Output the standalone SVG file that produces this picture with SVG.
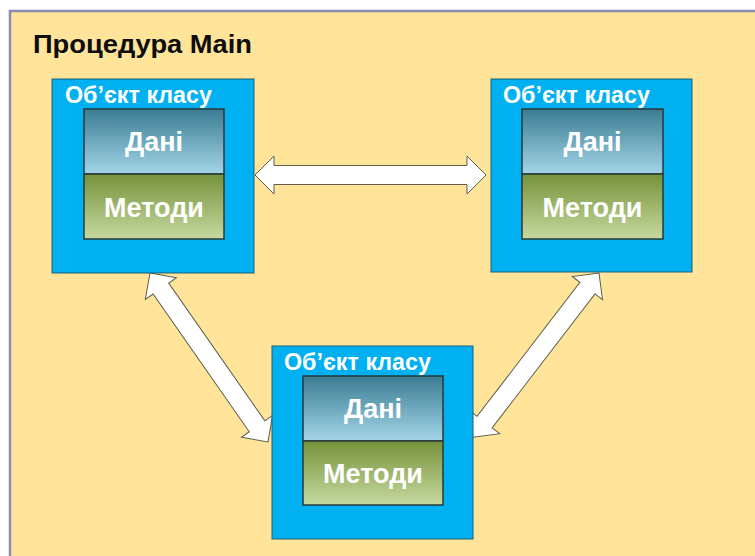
<svg xmlns="http://www.w3.org/2000/svg" width="755" height="556" viewBox="0 0 755 556">
  <defs>
    <linearGradient id="gData" x1="0" y1="0" x2="0" y2="1">
      <stop offset="0" stop-color="#3B7C93"/>
      <stop offset="1" stop-color="#A3D5E7"/>
    </linearGradient>
    <linearGradient id="gMeth" x1="0" y1="0" x2="0" y2="1">
      <stop offset="0" stop-color="#76923A"/>
      <stop offset="1" stop-color="#C6D9A0"/>
    </linearGradient>
    <style>
      .frame { fill: #FFE49A; stroke: #8C8AAE; stroke-width: 2.5; }
      .obj { fill: #00B0F0; stroke: #1F5F78; stroke-width: 1; }
      .data { fill: url(#gData); stroke: #26383A; stroke-width: 1.5; }
      .meth { fill: url(#gMeth); stroke: #26383A; stroke-width: 1.5; }
      .title { font-family: "Liberation Sans", Arial, sans-serif; font-weight: bold; font-size: 26px; fill: #0D0D0D; }
      .objlbl { font-family: "Liberation Sans", Arial, sans-serif; font-weight: bold; font-size: 23px; fill: #FFFFFF; }
      .inlbl { font-family: "Liberation Sans", Arial, sans-serif; font-weight: bold; font-size: 27px; fill: #FFFFFF; text-anchor: middle; }
      .arrow { fill: #FFFFFF; stroke: #5E5C4C; stroke-width: 1; stroke-linejoin: miter; }
    </style>
  </defs>

  <rect x="0" y="0" width="755" height="556" fill="#FFFFFF"/>
  <rect class="frame" x="10" y="11" width="770" height="570"/>

  <g id="title">
    <text class="title" x="33" y="53" textLength="219" lengthAdjust="spacingAndGlyphs">Процедура Main</text>
  </g>

  <g id="connectors">
    <polygon class="arrow" transform="translate(255,175)" points="0,0 19,-19 19,-9.5 212,-9.5 212,-19 231,0 212,19 212,9.5 19,9.5 19,19"/>
    <polygon class="arrow" transform="translate(150,273) rotate(55.07)" points="0,0 19,-19 19,-9.5 187,-9.5 187,-19 206,0 187,19 187,9.5 19,9.5 19,19"/>
    <polygon class="arrow" transform="translate(599,273) rotate(127.5)" points="0,0 19,-19 19,-9.5 188,-9.5 188,-19 207,0 188,19 188,9.5 19,9.5 19,19"/>
  </g>

  <g id="obj1">
    <rect class="obj" x="52" y="79" width="202" height="194"/>
    <text class="objlbl" x="65" y="103" textLength="147" lengthAdjust="spacingAndGlyphs">Об’єкт класу</text>
    <rect class="data" x="84" y="109" width="140" height="65"/>
    <rect class="meth" x="84" y="174" width="140" height="65"/>
    <text class="inlbl" x="154" y="151">Дані</text>
    <text class="inlbl" x="154" y="217">Методи</text>
  </g>

  <g id="obj2">
    <rect class="obj" x="491" y="79" width="201" height="193"/>
    <text class="objlbl" x="503" y="103" textLength="147" lengthAdjust="spacingAndGlyphs">Об’єкт класу</text>
    <rect class="data" x="522" y="109" width="141" height="65"/>
    <rect class="meth" x="522" y="174" width="141" height="65"/>
    <text class="inlbl" x="592.5" y="151">Дані</text>
    <text class="inlbl" x="592.5" y="217">Методи</text>
  </g>

  <g id="obj3">
    <rect class="obj" x="272" y="346" width="201" height="193"/>
    <text class="objlbl" x="284" y="370" textLength="147" lengthAdjust="spacingAndGlyphs">Об’єкт класу</text>
    <rect class="data" x="303" y="376" width="140" height="65"/>
    <rect class="meth" x="303" y="441" width="140" height="64"/>
    <text class="inlbl" x="373" y="418">Дані</text>
    <text class="inlbl" x="373" y="483">Методи</text>
  </g>
</svg>
